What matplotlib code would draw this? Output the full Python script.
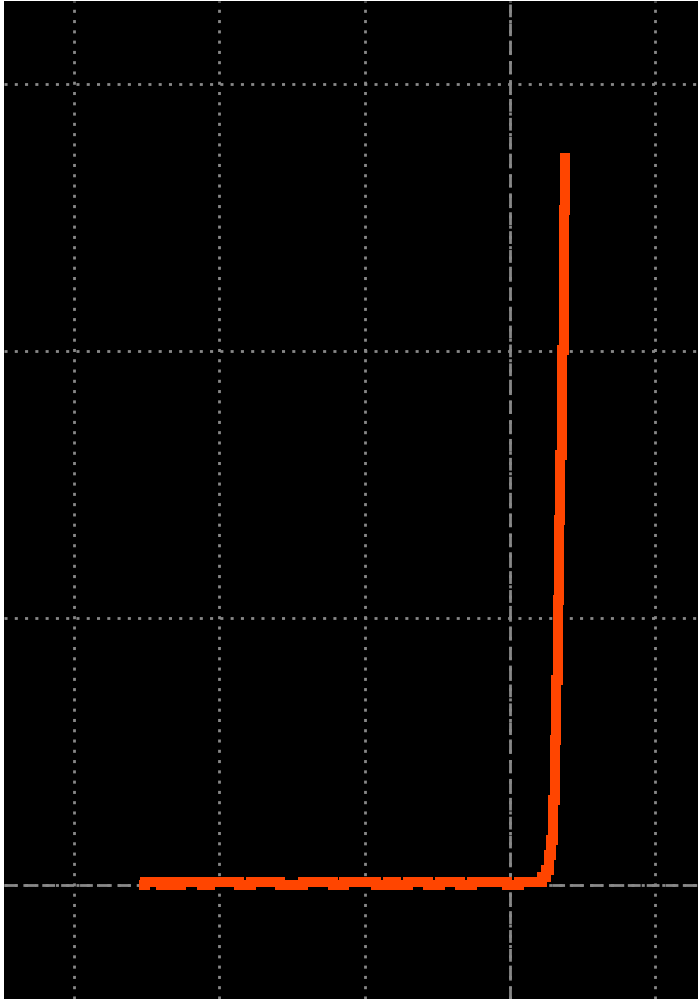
import matplotlib
matplotlib.use("Agg")
import matplotlib.pyplot as plt
import numpy as np

# flat section, then the sharp rise
x_flat = [-2.55, -2.51, -2.42, -2.40, -2.36, -2.31, -2.26, -2.20, -2.12, -2.06,
          -2.00, -1.92, -1.86, -1.78, -1.72, -1.64, -1.58, -1.50, -1.42, -1.36,
          -1.28, -1.22, -1.14, -1.06, -1.00, -0.92, -0.84, -0.78, -0.70, -0.62,
          -0.56, -0.48, -0.40, -0.34, -0.26, -0.18, -0.10, -0.02, 0.06, 0.14]
y_flat = [0.000, 0.011, 0.011, 0.000, 0.011, 0.000, 0.011, 0.011, 0.000, 0.011,
          0.011, 0.011, 0.000, 0.011, 0.011, 0.011, 0.000, 0.000, 0.011, 0.011,
          0.011, 0.000, 0.011, 0.011, 0.011, 0.000, 0.011, 0.000, 0.011, 0.011,
          0.000, 0.011, 0.011, 0.000, 0.011, 0.011, 0.011, 0.000, 0.011, 0.011]
x_rise = [0.186, 0.220, 0.248, 0.268, 0.282, 0.296, 0.310, 0.317, 0.330, 0.337,
          0.344, 0.358, 0.372, 0.378]
y_rise = [0.011, 0.030, 0.056, 0.112, 0.169, 0.318, 0.543, 0.768, 1.068, 1.368,
          1.611, 2.004, 2.529, 2.743]

x_ticks = [-3, -2, -1, 0, 1]
y_ticks = [0, 1, 2, 3]

x = np.array(x_flat + x_rise)
y = np.array(y_flat + y_rise)

fig = plt.figure(figsize=(6.98, 10), dpi=100, facecolor="white")
ax = fig.add_axes([0.0057, 0.001, 0.9943, 0.998])
ax.set_facecolor("black")

ax.set_xlim(-3.48, 1.294)
ax.set_ylim(-0.427, 3.312)
ax.set_xticks(x_ticks)
ax.set_yticks(y_ticks)
ax.tick_params(length=0, labelbottom=False, labelleft=False)
for s in ax.spines.values():
    s.set_visible(False)

ax.grid(True, color="#888888", linewidth=2.0, linestyle=(0, (1.1, 2.6)))
ax.axhline(0, color="#888888", linewidth=2.0, linestyle=(0, (4.6, 2.2)), zorder=2)
ax.axvline(0, color="#888888", linewidth=2.0, linestyle=(0, (4.6, 2.2)), zorder=2)

ax.plot(x, y, color="#FF4500", linewidth=7.2, solid_capstyle="butt",
        solid_joinstyle="miter", drawstyle="steps-post", zorder=3)

fig.savefig("out.png", dpi=100, facecolor="white")
